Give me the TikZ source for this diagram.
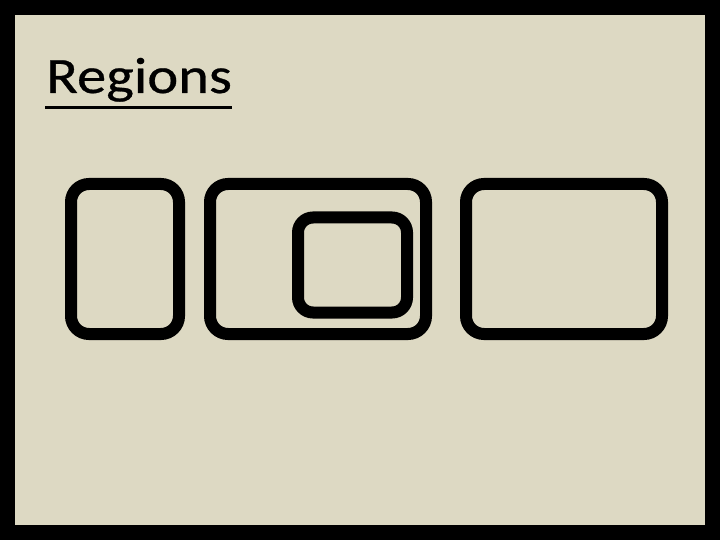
\documentclass[tikz,border=0pt]{standalone}
\usepackage{fontspec}
\setmainfont{Carlito}
\newfontfamily\titlefont[FakeBold=0.5]{Carlito}
\usepackage{tikz}
\definecolor{SlideBg}{RGB}{221,217,195}

\begin{document}
\begin{tikzpicture}[x=1pt, y=-1pt]
    \tikzstyle{region} = [draw, line width=12pt, rectangle, rounded corners=18pt, minimum height=150pt]
    \fill[black] (0,0) rectangle (720,540);
    \fill[SlideBg] (15,15) rectangle (705,525);

    \node[anchor=base west, inner sep=0pt, font=\titlefont\fontsize{51}{56}\selectfont] (title) at (46,93) {\scalebox{1.15}[1]{Regions}};
    \draw[line width=3pt] ([xshift=-1pt, yshift=-14.5pt]title.base west) -- ([yshift=-14.5pt]title.base east);

    \node[region, minimum width=108pt] (left) at (125,259) {};
    \node[region, minimum width=216pt] (outer) at (318,259) {};
    \node[region, minimum width=109pt, minimum height=95pt, rounded corners=15pt] (inner) at (352.5,265) {};
    \node[region, minimum width=196pt] (right) at (564,259) {};
\end{tikzpicture}
\end{document}
